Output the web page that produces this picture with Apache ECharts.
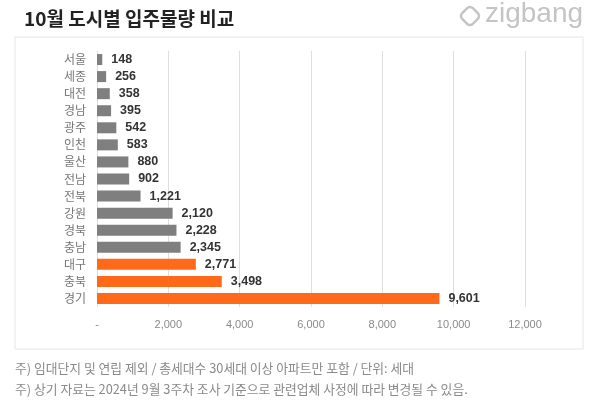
<!DOCTYPE html>
<html>
<head>
<meta charset="utf-8">
<script src="https://cdn.jsdelivr.net/npm/echarts@6/dist/echarts.min.js"></script>
<style>
  html, body { margin: 0; padding: 0; background: #fff; }
  #chart { width: 600px; height: 408px; }
</style>
</head>
<body>
<div id="chart"></div>
<script>
// data
const cities = ["서울", "세종", "대전", "경남", "광주", "인천", "울산", "전남", "전북", "강원", "경북", "충남", "대구", "충북", "경기"];
const units = [148, 256, 358, 395, 542, 583, 880, 902, 1221, 2120, 2228, 2345, 2771, 3498, 9601];
const highlighted = ["대구", "충북", "경기"];
const xTicks = [0, 2000, 4000, 6000, 8000, 10000, 12000];

const grey = "#7f7f7f";
const orange = "#ff6a1a";
const font = "'Liberation Sans', 'Noto Sans CJK KR', sans-serif";

const chart = echarts.init(document.getElementById("chart"), null, { renderer: "canvas" });

const option = {
	animation: false,
	title: {
		text: "10월 도시별 입주물량 비교",
		left: 19,
		top: 4,
		textStyle: { fontSize: 19, fontWeight: "bold", color: "#222", fontFamily: "'Noto Sans CJK KR', sans-serif" },
	},
	graphic: [
		{
			type: "rect",
			shape: { x: 15, y: 37, width: 568, height: 312 },
			style: { fill: null, stroke: "#e6e6e6", lineWidth: 1 },
			silent: true,
		},
		{
			type: "rect",
			shape: { x: -7.5, y: -7.5, width: 15, height: 15, r: 4 },
			x: 470,
			y: 16,
			rotation: Math.PI / 4,
			style: { fill: null, stroke: "#c4c4c4", lineWidth: 2.5 },
			silent: true,
		},
		{
			type: "text",
			x: 485,
			y: 0,
			style: { text: "zigbang", fill: "#c4c4c4", font: "28px 'Liberation Sans', sans-serif" },
			silent: true,
		},
		{
			type: "text",
			x: 15,
			y: 362,
			style: {
				text: "주) 임대단지 및 연립 제외 / 총세대수 30세대 이상 아파트만 포함 / 단위: 세대",
				fill: "#8a8a8a",
				font: "12.8px 'Noto Sans CJK KR', sans-serif",
			},
			silent: true,
		},
		{
			type: "text",
			x: 15,
			y: 383,
			style: {
				text: "주) 상기 자료는 2024년 9월 3주차 조사 기준으로 관련업체 사정에 따라 변경될 수 있음.",
				fill: "#8a8a8a",
				font: "12.8px 'Noto Sans CJK KR', sans-serif",
			},
			silent: true,
		},
	],
	grid: { left: 97, right: 75, top: 51, bottom: 101, containLabel: false },
	xAxis: {
		type: "value",
		min: xTicks[0],
		max: xTicks[xTicks.length - 1],
		interval: 2000,
		axisLine: { show: false },
		axisTick: { show: false },
		splitLine: { show: true, lineStyle: { color: "#dedede", width: 1 } },
		axisLabel: {
			color: "#8a8a8a",
			fontSize: 11,
			fontFamily: font,
			margin: 12,
			formatter: (v) => (v === 0 ? "-" : v.toLocaleString("en-US")),
		},
	},
	yAxis: {
		type: "category",
		data: cities,
		inverse: true,
		axisLine: { show: false },
		axisTick: { show: false },
		axisLabel: { color: "#777", fontSize: 12, margin: 11, fontFamily: "'Noto Sans CJK KR', sans-serif" },
	},
	series: [
		{
			type: "bar",
			barWidth: 11,
			data: units.map((v, i) => ({
				value: v,
				itemStyle: { color: highlighted.includes(cities[i]) ? orange : grey },
			})),
			label: {
				show: true,
				position: "right",
				distance: 9,
				color: "#333",
				fontWeight: "bold",
				fontSize: 12.5,
				fontFamily: font,
				formatter: (p) => p.value.toLocaleString("en-US"),
			},
		},
	],
};

chart.setOption(option);
</script>
</body>
</html>
